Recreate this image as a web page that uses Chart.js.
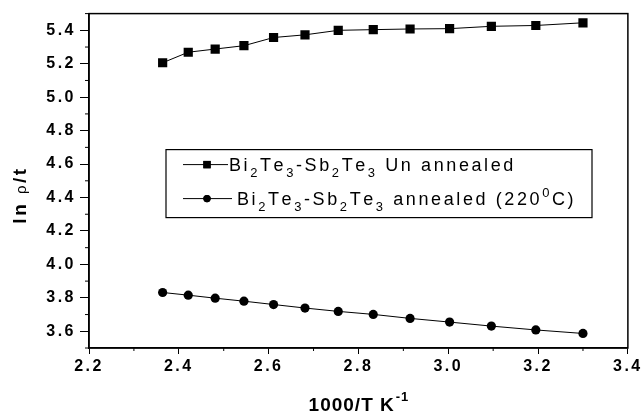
<!DOCTYPE html>
<html>
<head>
<meta charset="utf-8">
<script src="https://cdn.jsdelivr.net/npm/chart.js@4.4.1/dist/chart.umd.min.js"></script>
<style>
  html, body { margin: 0; padding: 0; background: #fff; }
</style>
</head>
<body>
<canvas id="chart" width="642" height="417"></canvas>
<script>
// data (1000/T in K^-1, ln rho/t)
const invT = [2.364, 2.421, 2.481, 2.545, 2.611, 2.681, 2.755, 2.833, 2.915, 3.003, 3.096, 3.195, 3.300];
const unannealed = [5.206, 5.269, 5.288, 5.308, 5.357, 5.373, 5.400, 5.404, 5.408, 5.410, 5.424, 5.429, 5.445];
const annealed = [3.832, 3.816, 3.798, 3.780, 3.760, 3.739, 3.719, 3.701, 3.677, 3.655, 3.631, 3.608, 3.587];
// _x = subscript, ^x = superscript (one char each)
const seriesLabels = ['Bi_2Te_3-Sb_2Te_3 Un annealed', 'Bi_2Te_3-Sb_2Te_3 annealed (220^0C)'];
const xTitle = ['1000/T K', '-1'];
const yTitle = ['ln ', 'ρ', '/t'];

const FONT = "'Liberation Sans', Arial, sans-serif";

// majors every 0.2, minors every 0.1
const isMajor = v => Math.round(v * 10) % 2 === 0;

const toPoints = (xs, ys) => xs.map((x, i) => ({ x, y: ys[i] }));

// draws text with simple sub/superscripts
function drawRich(ctx, text, x, y, size, weight = '') {
  let cx = x;
  for (let i = 0; i < text.length; i++) {
    let ch = text[i];
    let dy = 0, sz = size;
    if ((ch === '_' || ch === '^') && i + 1 < text.length) {
      dy = ch === '_' ? size * 0.38 : -size * 0.42;
      sz = size * 0.72;
      ch = text[++i];
    }
    ctx.font = `${weight} ${sz}px ${FONT}`;
    ctx.fillText(ch, cx, y + dy);
    cx += ctx.measureText(ch).width;
  }
  return cx - x;
}

const framePlugin = {
  id: 'frame',
  beforeDraw(chart) {
    chart.ctx.letterSpacing = '2.5px';
  },
  afterDraw(chart) {
    const { ctx, chartArea: a, scales } = chart;
    ctx.save();
    ctx.strokeStyle = '#000';
    ctx.fillStyle = '#000';
    ctx.lineWidth = 1.5;
    ctx.strokeRect(a.left, a.top, a.right - a.left, a.bottom - a.top);

    // minor ticks
    ctx.lineWidth = 1;
    ctx.beginPath();
    scales.y.ticks.forEach(t => {
      if (isMajor(t.value)) return;
      const py = scales.y.getPixelForValue(t.value);
      ctx.moveTo(a.left - 4, py);
      ctx.lineTo(a.left, py);
    });
    scales.x.ticks.forEach(t => {
      if (isMajor(t.value)) return;
      const px = scales.x.getPixelForValue(t.value);
      ctx.moveTo(px, a.bottom);
      ctx.lineTo(px, a.bottom + 3);
    });
    ctx.stroke();

    // x title with superscript
    ctx.letterSpacing = '1px';
    ctx.textBaseline = 'alphabetic';
    ctx.font = `bold 19px ${FONT}`;
    const w1 = ctx.measureText(xTitle[0]).width;
    ctx.font = `bold 13px ${FONT}`;
    const w2 = ctx.measureText(xTitle[1]).width;
    let tx = (a.left + a.right) / 2 - (w1 + w2) / 2;
    ctx.font = `bold 19px ${FONT}`;
    ctx.fillText(xTitle[0], tx, 411);
    ctx.font = `bold 13px ${FONT}`;
    ctx.fillText(xTitle[1], tx + w1 + 1, 401);

    // y title, rotated
    ctx.save();
    ctx.letterSpacing = '2.5px';
    ctx.translate(26, 195);
    ctx.rotate(-Math.PI / 2);
    const parts = [
      { t: yTitle[0], f: `bold 19px ${FONT}` },
      { t: yTitle[1], f: `15px ${FONT}` },
      { t: yTitle[2], f: `bold 19px ${FONT}` }
    ];
    let total = 0;
    parts.forEach(p => { ctx.font = p.f; p.w = ctx.measureText(p.t).width; total += p.w; });
    let py = -total / 2;
    parts.forEach(p => { ctx.font = p.f; ctx.fillText(p.t, py, 0); py += p.w; });
    ctx.restore();

    // legend box
    const lx = a.left + 77, ly = a.top + 136, lw = 426, lh = 68;
    ctx.lineWidth = 1.2;
    ctx.strokeRect(lx, ly, lw, lh);
    ctx.letterSpacing = '2.6px';
    const rows = [{ cy: ly + 15, tx: lx + 63, x2: lx + 62 }, { cy: ly + 49, tx: lx + 71, x2: lx + 66 }];
    chart.data.datasets.forEach((ds, i) => {
      const r = rows[i];
      ctx.lineWidth = 1;
      ctx.beginPath();
      ctx.moveTo(lx + 17, r.cy);
      ctx.lineTo(r.x2, r.cy);
      ctx.stroke();
      Chart.helpers.drawPoint(ctx, {
        pointStyle: ds.pointStyle,
        radius: ds.pointRadius * 0.8,
        borderWidth: 0
      }, lx + 41, r.cy);
      ctx.fill();
      drawRich(ctx, ds.label, r.tx, r.cy + 6, 18);
    });
    ctx.restore();
  }
};

const tickFont = { family: FONT, size: 16, weight: 'bold' };

new Chart(document.getElementById('chart'), {
  type: 'line',
  data: {
    datasets: [
      {
        label: seriesLabels[0],
        data: toPoints(invT, unannealed),
        borderColor: '#000',
        backgroundColor: '#000',
        borderWidth: 1,
        pointStyle: 'rect',
        pointRadius: 6.5,
        pointBorderWidth: 0,
        tension: 0
      },
      {
        label: seriesLabels[1],
        data: toPoints(invT, annealed),
        borderColor: '#000',
        backgroundColor: '#000',
        borderWidth: 1,
        pointStyle: 'circle',
        pointRadius: 4.6,
        pointBorderWidth: 0,
        tension: 0
      }
    ]
  },
  options: {
    responsive: false,
    animation: false,
    devicePixelRatio: 1,
    layout: { padding: { top: 10, right: 13, left: 0, bottom: 0 } },
    plugins: {
      legend: { display: false },
      tooltip: { enabled: false }
    },
    scales: {
      x: {
        type: 'linear',
        min: 2.2,
        max: 3.4,
        afterFit: s => { s.height = 69; },
        ticks: {
          stepSize: 0.1,
          autoSkip: false,
          maxRotation: 0,
          color: '#000',
          font: tickFont,
          padding: 3,
          callback: v => isMajor(v) ? v.toFixed(1) : ''
        },
        grid: {
          drawOnChartArea: false,
          tickLength: 6,
          tickColor: c => isMajor(c.tick.value) ? '#000' : 'rgba(0,0,0,0)'
        },
        border: { color: '#000', width: 1.5 }
      },
      y: {
        min: 3.5,
        max: 5.5,
        afterFit: s => { s.width = 89; },
        ticks: {
          stepSize: 0.1,
          autoSkip: false,
          color: '#000',
          font: tickFont,
          padding: 4,
          callback: v => isMajor(v) ? v.toFixed(1) : ''
        },
        grid: {
          drawOnChartArea: false,
          tickLength: 9,
          tickColor: c => isMajor(c.tick.value) ? '#000' : 'rgba(0,0,0,0)'
        },
        border: { color: '#000', width: 1.5 }
      }
    }
  },
  plugins: [framePlugin]
});
</script>
</body>
</html>
